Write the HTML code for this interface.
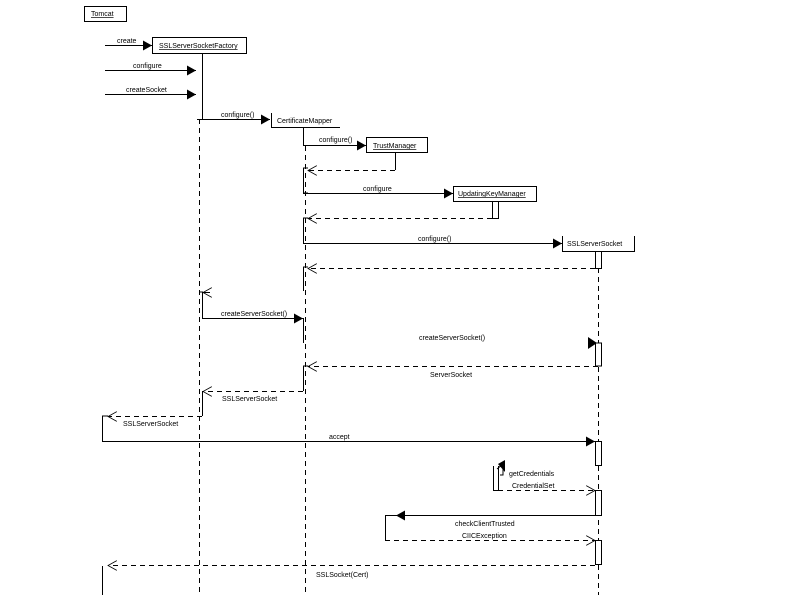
<!DOCTYPE html>
<html><head><meta charset="utf-8"><style>
html,body{margin:0;padding:0;background:#fff;}
svg{display:block;}
text{font-family:"Liberation Sans",sans-serif;font-size:7px;fill:#000;}
</style></head><body>
<svg width="794" height="595" viewBox="0 0 794 595" xmlns="http://www.w3.org/2000/svg">
<defs>
<marker id="f" markerWidth="10" markerHeight="10" refX="9" refY="5" orient="auto" markerUnits="userSpaceOnUse"><path d="M0,0 L9,5 L0,10 z" fill="#000"/></marker>
<marker id="o" markerWidth="10" markerHeight="10" refX="9" refY="5" orient="auto" markerUnits="userSpaceOnUse"><path d="M0,0 L9,5 L0,10" fill="none" stroke="#000" stroke-width="0.8"/></marker>
</defs>
<g stroke="#000" stroke-width="1" fill="none">
<!-- Tomcat -->
<rect x="84.5" y="6.5" width="42" height="15" fill="#fff"/>
<!-- SSF -->
<rect x="152.5" y="37.5" width="94" height="16" fill="#fff"/>
<line x1="202.5" y1="53" x2="202.5" y2="119"/>
<line x1="199.5" y1="119" x2="199.5" y2="595" stroke-dasharray="5,4"/>
<line x1="105" y1="45.5" x2="152" y2="45.5" marker-end="url(#f)"/>
<line x1="105" y1="70.5" x2="196" y2="70.5" marker-end="url(#f)"/>
<line x1="105" y1="94.5" x2="196" y2="94.5" marker-end="url(#f)"/>
<line x1="197" y1="119.5" x2="270" y2="119.5" marker-end="url(#f)"/>
<!-- CM -->
<polyline points="271.5,113 271.5,127.5 340,127.5"/>
<line x1="303.5" y1="127" x2="303.5" y2="146"/>
<line x1="305.5" y1="146" x2="305.5" y2="595" stroke-dasharray="5,4"/>
<line x1="303" y1="145.5" x2="366" y2="145.5" marker-end="url(#f)"/>
<!-- TM -->
<rect x="366.5" y="137.5" width="61" height="15" fill="#fff"/>
<line x1="395.5" y1="152" x2="395.5" y2="170"/>
<line x1="395" y1="170.5" x2="308" y2="170.5" stroke-dasharray="5,4" marker-end="url(#o)"/>
<polyline points="308,168 303.5,168 303.5,193 308,193"/>
<line x1="303" y1="193.5" x2="453" y2="193.5" marker-end="url(#f)"/>
<!-- UKM -->
<rect x="453.5" y="186.5" width="83" height="15" fill="#fff"/>
<rect x="492.5" y="201.5" width="6" height="17" fill="#fff"/>
<line x1="492" y1="218.5" x2="308" y2="218.5" stroke-dasharray="5,4" marker-end="url(#o)"/>
<polyline points="308,218 303.5,218 303.5,243"/>
<line x1="303" y1="243.5" x2="562" y2="243.5" marker-end="url(#f)"/>
<!-- SSS -->
<polyline points="562.5,236 562.5,251.5 634.5,251.5 634.5,236"/>
<rect x="595.5" y="251.5" width="6" height="17" fill="#fff"/>
<line x1="598.5" y1="268" x2="598.5" y2="595" stroke-dasharray="5,4"/>
<line x1="595" y1="268.5" x2="308" y2="268.5" stroke-dasharray="5,4" marker-end="url(#o)"/>
<polyline points="308,267 303.5,267 303.5,291"/>
<!-- back to SSF -->
<polyline points="303.5,318 303.5,343"/>
<line x1="210" y1="292.5" x2="203" y2="292.5" marker-end="url(#o)"/>
<polyline points="199,292 202.5,292 202.5,318"/>
<line x1="202" y1="318.5" x2="303" y2="318.5" marker-end="url(#f)"/>
<polyline points="595.5,366 595.5,343 601.5,343 601.5,366 595.5,366" fill="#fff"/>
<path d="M588,337 L597,343 L588,349 z" fill="#000" stroke="none"/>
<line x1="598" y1="366.5" x2="308" y2="366.5" stroke-dasharray="5,4" marker-end="url(#o)"/>
<polyline points="308,366 303.5,366 303.5,391"/>
<line x1="303" y1="391.5" x2="203" y2="391.5" stroke-dasharray="5,4" marker-end="url(#o)"/>
<polyline points="202.5,391 202.5,416"/>
<line x1="202" y1="416.5" x2="108" y2="416.5" stroke-dasharray="5,4" marker-end="url(#o)"/>
<polyline points="108,416 102.5,416 102.5,441"/>
<line x1="102" y1="441.5" x2="595" y2="441.5" marker-end="url(#f)"/>
<rect x="595.5" y="441.5" width="6" height="24" fill="#fff"/>
<!-- getCredentials self -->
<polyline points="493.5,466 493.5,490.5 498.5,490.5 498.5,466"/>
<path d="M500,464 L503,464 L503,475 L500,475 M497,469 L503,464" fill="none"/>
<path d="M498,464 L505,460 L505,472 z" fill="#000" stroke="none"/>
<line x1="498" y1="490.5" x2="595" y2="490.5" stroke-dasharray="5,4" marker-end="url(#o)"/>
<rect x="595.5" y="490.5" width="6" height="25" fill="#fff"/>
<line x1="595" y1="515.5" x2="396" y2="515.5" marker-end="url(#f)"/>
<polyline points="396,515.5 385.5,515.5 385.5,540"/>
<line x1="385" y1="540.5" x2="595" y2="540.5" stroke-dasharray="5,4" marker-end="url(#o)"/>
<rect x="595.5" y="540.5" width="6" height="24" fill="#fff"/>
<line x1="595" y1="565.5" x2="108" y2="565.5" stroke-dasharray="5,4" marker-end="url(#o)"/>
<line x1="102.5" y1="566" x2="102.5" y2="595"/>
</g>
<text x="91" y="16" text-decoration="underline">Tomcat</text>
<text x="159" y="48" text-decoration="underline">SSLServerSocketFactory</text>
<text x="117" y="43">create</text>
<text x="133" y="68">configure</text>
<text x="126" y="92">createSocket</text>
<text x="221" y="117">configure()</text>
<text x="277" y="123">CertificateMapper</text>
<text x="319" y="142">configure()</text>
<text x="373" y="148" text-decoration="underline">TrustManager</text>
<text x="363" y="191">configure</text>
<text x="458" y="196" text-decoration="underline">UpdatingKeyManager</text>
<text x="418" y="241">configure()</text>
<text x="567" y="246">SSLServerSocket</text>
<text x="221" y="316">createServerSocket()</text>
<text x="419" y="340">createServerSocket()</text>
<text x="430" y="377">ServerSocket</text>
<text x="222" y="401">SSLServerSocket</text>
<text x="123" y="426">SSLServerSocket</text>
<text x="329" y="439">accept</text>
<text x="509" y="476">getCredentials</text>
<text x="512" y="488">CredentialSet</text>
<text x="455" y="526">checkClientTrusted</text>
<text x="462" y="538">CIICException</text>
<text x="316" y="577">SSLSocket(Cert)</text>
</svg>
</body></html>
